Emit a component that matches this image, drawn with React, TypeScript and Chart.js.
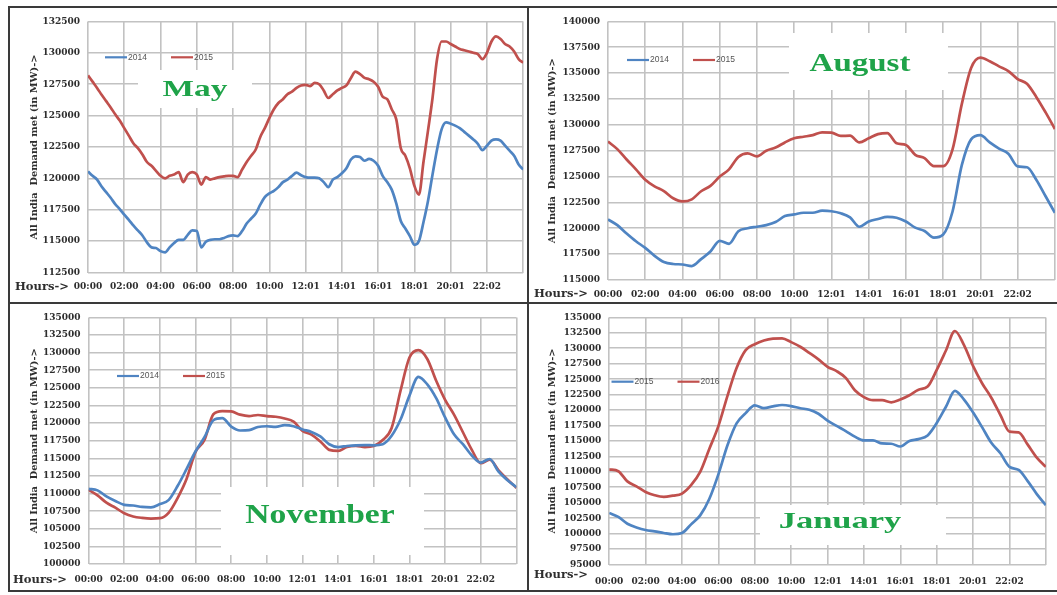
import React, { useEffect, useRef } from "react";
import { Chart, registerables } from "chart.js";

Chart.register(...registerables);

// ---------- data ----------
const hourTickLabels = ["00:00", "02:00", "04:00", "06:00", "08:00", "10:00", "12:01", "14:01", "16:01", "18:01", "20:01", "22:02"];

// May: 15-minute samples, 00:00 .. 24:00
const may2014 = [
  120550, 120200, 119900, 119350, 118900, 118450, 117950, 117550, 117100, 116700,
  116250, 115850, 115450, 114900, 114500, 114450, 114200, 114100, 114500, 114850,
  115100, 115100, 115500, 115850, 115800, 114500, 114950, 115100, 115150, 115150,
  115250, 115400, 115450, 115400, 115800, 116400, 116800, 117200, 117900, 118500,
  118800, 119000, 119300, 119700, 119900, 120200, 120450, 120250, 120100, 120050,
  120050, 120000, 119700, 119300, 119900, 120100, 120400, 120800, 121500, 121750,
  121700, 121400, 121550, 121400, 121000, 120200, 119700, 119100, 118000, 116600,
  116000, 115400, 114700, 115000, 116500, 118200, 120300, 122300, 123900, 124450,
  124350, 124200, 124000, 123700, 123400, 123100, 122750, 122250, 122600, 123000,
  123100, 123000, 122600, 122200, 121800, 121100, 120700,
];
const may2015 = [
  128200, 127700, 127200, 126650, 126150, 125650, 125100, 124600, 124000, 123400,
  122800, 122400, 121900, 121300, 121000, 120600, 120200, 120000, 120200, 120300,
  120500, 119700, 120300, 120500, 120300, 119500, 120100, 119900, 120000, 120100,
  120150, 120200, 120200, 120100, 120700, 121300, 121800, 122300, 123300, 124000,
  124800, 125500, 126000, 126300, 126700, 126900, 127200, 127400, 127450, 127350,
  127600, 127500, 127000, 126400, 126700, 127000, 127200, 127400, 128000, 128500,
  128300, 128000, 127900, 127700, 127300, 126500, 126300, 125500, 124700, 122400,
  121800, 120800, 119400, 118700, 121300, 123800, 126400, 129500, 130900, 130900,
  130700, 130500, 130300, 130200, 130100, 130000, 129900, 129500, 130000, 130900,
  131300, 131100, 130700, 130500, 130100, 129500, 129200,
];

// August: 30-minute samples
const aug2014 = [
  120860, 120300, 119500, 118750, 118100, 117340, 116750, 116550, 116500, 116350,
  117020, 117750, 118780, 118500, 119720, 120000, 120150, 120300, 120600, 121180,
  121340, 121500, 121500, 121700, 121650, 121450, 121050, 120150, 120650, 120900,
  121100, 121020, 120650, 120060, 119740, 119100, 119400, 121600, 126100, 128600,
  129000, 128300, 127700, 127200, 125980, 125900, 124700, 123100, 121500,
];
const aug2015 = [
  128380, 127650, 126650, 125700, 124700, 124060, 123600, 122900, 122600, 122800,
  123580, 124100, 125000, 125700, 126900, 127250, 126950, 127500, 127800, 128300,
  128700, 128850, 129000, 129280, 129250, 128930, 128950, 128300, 128700, 129100,
  129200, 128220, 128060, 127100, 126780, 126000, 126000, 127600, 132000, 135500,
  136500, 136150, 135650, 135200, 134420, 133980, 132700, 131200, 129600,
];

// November: 30-minute samples
const nov2014 = [
  110670, 110450, 109600, 108950, 108400, 108300, 108100, 108050, 108500, 109100,
  111100, 113500, 116000, 118000, 120400, 120700, 119500, 118950, 119000, 119450,
  119550, 119450, 119700, 119550, 119100, 118750, 118100, 117000, 116600, 116750,
  116850, 116880, 116850, 117000, 118200, 120500, 123900, 126550, 125500, 123540,
  120800, 118400, 117000, 115400, 114400, 114900, 113100, 111900, 110900,
];
const nov2015 = [
  110530, 109750, 108700, 108000, 107200, 106750, 106550, 106450, 106500, 107300,
  109400, 112100, 115900, 117600, 121250, 121700, 121650, 121200, 121000, 121150,
  121000, 120900, 120650, 120200, 118900, 118350, 117400, 116200, 116050, 116600,
  116750, 116600, 116750, 117600, 119300, 124600, 129300, 130350, 129100, 126000,
  123300, 121200, 118700, 116200, 114300, 114800, 113300, 112000, 110800,
];

// January: 30-minute samples
const jan2015 = [
  103340, 102700, 101600, 101000, 100580, 100370, 100100, 99900, 100100, 101500,
  102950, 105600, 109600, 114300, 117850, 119500, 120750, 120300, 120600, 120820,
  120650, 120300, 120050, 119400, 118300, 117430, 116600, 115700, 115080, 115080,
  114600, 114550, 114100, 115000, 115300, 115900, 117900, 120500, 123100, 121700,
  119600, 117200, 114700, 113000, 110800, 110300, 108500, 106400, 104600,
];
const jan2016 = [
  110390, 110100, 108450, 107650, 106750, 106220, 105950, 106150, 106480, 107850,
  110000, 113700, 117400, 122300, 126800, 129700, 130650, 131250, 131550, 131600,
  131000, 130250, 129250, 128200, 127000, 126300, 125200, 123200, 122100, 121600,
  121600, 121250, 121700, 122400, 123300, 123800, 126500, 129600, 132800, 130500,
  127100, 124300, 122000, 119200, 116500, 116400, 114400, 112300, 110800,
];

// ---------- styling ----------
const BLUE = "#4f84c2";
const RED = "#c0504d";
const GREEN = "#1fa349";
const GRID = "#c2c2c2";
const TEXT = "#2e2e2e";
const SERIF = '"DejaVu Serif", serif';
const TITLE_SERIF = '"Liberation Serif", serif';
const Y_TITLE = "All India  Demand met (in MW)->";
const TICK_SIZE = 9;
const TITLE_SIZE = 9.8;

type Series = { label: string; data: number[]; color: string };
type PanelCfg = {
  id: string;
  left: number; top: number; width: number; height: number; canvasWidth: number;
  plot: { left: number; top: number; right: number; bottom: number };
  yMin: number; yMax: number;
  xLabelY: number; titleX: number; hoursX: number; hoursY: number;
  box: { x: number; y: number; w: number; h: number };
  month: { text: string; x: number; y: number; size: number; sx: number };
  legendX: number; legendY: number;
  series: Series[];
};

const panels: PanelCfg[] = [
  {
    id: "may", left: 10, top: 8, width: 517, height: 294, canvasWidth: 522,
    plot: { left: 88, top: 19.5, right: 530, bottom: 272.5 },
    yMin: 112500, yMax: 132500,
    xLabelY: 286.7, titleX: 34, hoursX: 15, hoursY: 286.7,
    box: { x: 138, y: 70, w: 114, h: 38 },
    month: { text: "May", x: 195, y: 90, size: 23, sx: 1.45 },
    legendX: 105, legendY: 57.3,
    series: [
      { label: "2014", data: may2014, color: BLUE },
      { label: "2015", data: may2015, color: RED },
    ],
  },
  {
    id: "aug", left: 529, top: 8, width: 528, height: 294, canvasWidth: 535,
    plot: { left: 608, top: 19, right: 1061.6, bottom: 280 },
    yMin: 115000, yMax: 140000,
    xLabelY: 294.5, titleX: 552, hoursX: 534, hoursY: 294.5,
    box: { x: 789, y: 33, w: 159, h: 57 },
    month: { text: "August", x: 860, y: 64, size: 26, sx: 1.27 },
    legendX: 627, legendY: 60,
    series: [
      { label: "2014", data: aug2014, color: BLUE },
      { label: "2015", data: aug2015, color: RED },
    ],
  },
  {
    id: "nov", left: 10, top: 304, width: 517, height: 286, canvasWidth: 517,
    plot: { left: 88.6, top: 315, right: 524.8, bottom: 564 },
    yMin: 100000, yMax: 135000,
    xLabelY: 580, titleX: 34, hoursX: 13, hoursY: 580,
    box: { x: 221, y: 487, w: 203, h: 68 },
    month: { text: "November", x: 320, y: 516, size: 28, sx: 1.2 },
    legendX: 117, legendY: 376,
    series: [
      { label: "2014", data: nov2014, color: BLUE },
      { label: "2015", data: nov2015, color: RED },
    ],
  },
  {
    id: "jan", left: 529, top: 304, width: 528, height: 286, canvasWidth: 529,
    plot: { left: 609.2, top: 309.5, right: 1055.5, bottom: 564.5 },
    yMin: 95000, yMax: 135000,
    xLabelY: 582, titleX: 552, hoursX: 534, hoursY: 575,
    box: { x: 760, y: 505, w: 186, h: 40 },
    month: { text: "January", x: 840, y: 522.5, size: 23, sx: 1.5 },
    legendX: 611.5, legendY: 381.7,
    series: [
      { label: "2015", data: jan2015, color: BLUE },
      { label: "2016", data: jan2016, color: RED },
    ],
  },
];

function decorPlugin(p: PanelCfg) {
  return {
    id: "decor-" + p.id,
    beforeDatasetsDraw(chart: any) {
      const ctx: CanvasRenderingContext2D = chart.ctx;
      ctx.save();
      ctx.fillStyle = "#ffffff";
      ctx.fillRect(p.box.x - p.left, p.box.y - p.top, p.box.w, p.box.h);
      ctx.save();
      ctx.translate(p.month.x - p.left, p.month.y - p.top);
      ctx.scale(p.month.sx, 1);
      ctx.font = `bold ${p.month.size}px ${TITLE_SERIF}`;
      ctx.fillStyle = GREEN;
      ctx.textAlign = "center";
      ctx.textBaseline = "middle";
      ctx.fillText(p.month.text, 0, 0);
      ctx.restore();
      p.series.forEach((s, i) => {
        const x0 = p.legendX - p.left + i * 66;
        const y = p.legendY - p.top;
        ctx.strokeStyle = s.color;
        ctx.lineWidth = 2.2;
        ctx.beginPath();
        ctx.moveTo(x0, y);
        ctx.lineTo(x0 + 22, y);
        ctx.stroke();
        ctx.fillStyle = "#555555";
        ctx.font = '8.5px "Liberation Sans", sans-serif';
        ctx.textAlign = "left";
        ctx.textBaseline = "middle";
        ctx.fillText(s.label, x0 + 23, y);
      });
      ctx.restore();
    },
    afterDraw(chart: any) {
      const ctx: CanvasRenderingContext2D = chart.ctx;
      ctx.save();
      ctx.font = `bold 11.5px ${SERIF}`;
      ctx.fillStyle = TEXT;
      ctx.textAlign = "left";
      ctx.textBaseline = "middle";
      ctx.fillText("Hours->", p.hoursX - p.left, p.hoursY - p.top);
      ctx.restore();
    },
  };
}

function buildConfig(p: PanelCfg): any {
  const plotL = p.plot.left - p.left;
  const plotT = p.plot.top - p.top;
  const plotR = p.plot.right - p.left;
  const plotB = p.plot.bottom - p.top;
  const xScaleH = p.height - plotB;
  const xPad = p.xLabelY - p.top - plotB - (TICK_SIZE * 1.2) / 2;
  const titlePadTop = p.titleX - p.left - (TITLE_SIZE * 1.2) / 2;
  const tickFont = { family: SERIF, size: TICK_SIZE, weight: "bold" };
  const n = p.series[0].data.length;
  return {
    type: "line",
    data: {
      datasets: p.series.map((s) => ({
        label: s.label,
        data: s.data.map((v, i) => ({ x: (i * 24) / (n - 1), y: v })),
        borderColor: s.color,
        backgroundColor: s.color,
        borderWidth: 2.7,
        pointRadius: 0,
        cubicInterpolationMode: "monotone",
        fill: false,
      })),
    },
    options: {
      responsive: false,
      animation: false,
      events: [],
      layout: { padding: { left: 0, top: plotT, right: p.canvasWidth - plotR, bottom: 0 } },
      plugins: { legend: { display: false }, tooltip: { enabled: false }, title: { display: false } },
      scales: {
        x: {
          type: "linear",
          min: 0,
          max: 24,
          afterFit: (s: any) => { s.height = xScaleH; },
          ticks: {
            stepSize: 2,
            autoSkip: false,
            maxRotation: 0,
            minRotation: 0,
            padding: xPad,
            font: tickFont,
            color: TEXT,
            callback: (_v: any, i: number) => hourTickLabels[i] ?? "",
          },
          grid: { color: GRID, lineWidth: 1.6, drawTicks: false },
          border: { display: false },
        },
        y: {
          type: "linear",
          min: p.yMin,
          max: p.yMax,
          afterFit: (s: any) => { s.width = plotL; },
          ticks: {
            stepSize: 2500,
            autoSkip: false,
            padding: 8,
            font: tickFont,
            color: TEXT,
            callback: (v: any) => String(v),
          },
          grid: { color: GRID, lineWidth: 1.6, drawTicks: false },
          border: { display: false },
          title: {
            display: true,
            text: Y_TITLE,
            color: TEXT,
            font: { family: SERIF, size: TITLE_SIZE, weight: "bold" },
            padding: { top: titlePadTop, bottom: 0 },
          },
        },
      },
    },
    plugins: [decorPlugin(p)],
  };
}

function PanelChart({ p }: { p: PanelCfg }) {
  const ref = useRef<HTMLCanvasElement | null>(null);
  useEffect(() => {
    if (!ref.current) return;
    const chart = new Chart(ref.current, buildConfig(p));
    return () => chart.destroy();
  }, [p]);
  return (
    <div style={{ position: "absolute", left: p.left, top: p.top, width: p.width, height: p.height, overflow: "hidden" }}>
      <canvas
        ref={ref}
        width={p.canvasWidth}
        height={p.height}
        style={{ display: "block", width: p.canvasWidth, height: p.height }}
      />
    </div>
  );
}

const BORDER = "#3a3a3a";
const borders = [
  { left: 8, top: 6, width: 1049, height: 2 },
  { left: 8, top: 6, width: 2, height: 586 },
  { left: 527, top: 6, width: 2, height: 586 },
  { left: 8, top: 302, width: 1049, height: 2 },
  { left: 8, top: 590, width: 1049, height: 2 },
];

export default function App() {
  return (
    <div style={{ position: "fixed", left: 0, top: 0, width: 1057, height: 595, background: "#ffffff", overflow: "hidden" }}>
      {panels.map((p) => (
        <PanelChart key={p.id} p={p} />
      ))}
      {borders.map((b, i) => (
        <div key={i} style={{ position: "absolute", left: b.left, top: b.top, width: b.width, height: b.height, background: BORDER }} />
      ))}
    </div>
  );
}
